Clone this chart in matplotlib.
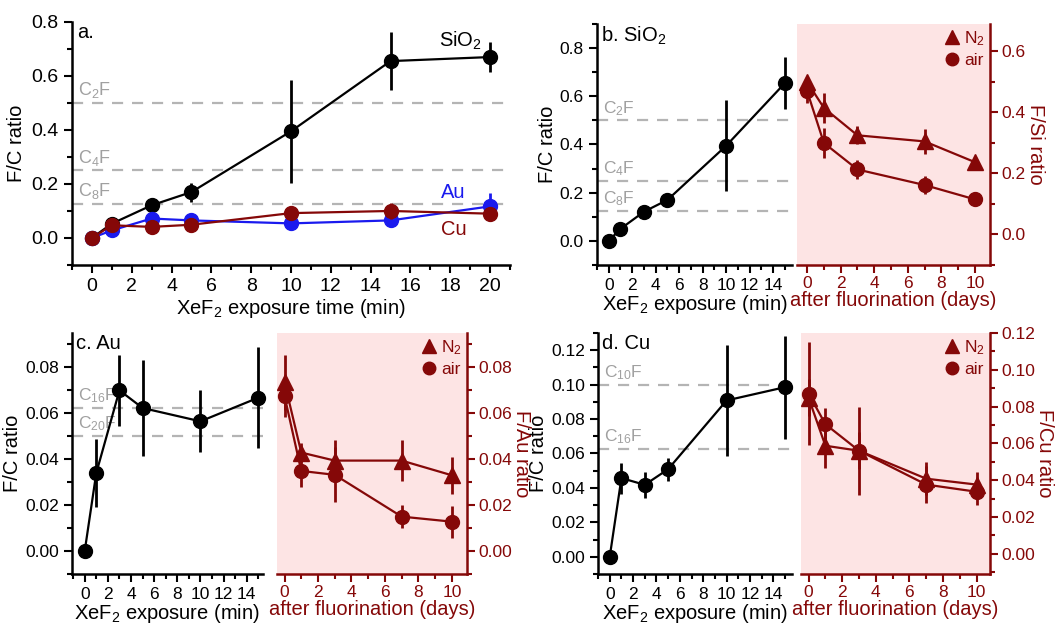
import matplotlib
matplotlib.use('Agg')
from matplotlib import pyplot as plt
from matplotlib.ticker import MultipleLocator, FormatStrFormatter
from matplotlib.lines import Line2D

plt.rcParams['font.family'] = ['Liberation Sans', 'DejaVu Sans']
plt.rcParams['mathtext.fontset'] = 'custom'
plt.rcParams['mathtext.rm'] = 'Liberation Sans'
plt.rcParams['mathtext.default'] = 'regular'

MAROON = '#850808'
BLUE = '#1a1aee'
GRAY = '#b4b4b4'
GRAYTXT = '#a0a0a0'
PINK = '#fde4e4'

# ---- data ----
# panel a
t_a = [0, 1, 3, 5, 10, 15, 20]
sio2_a = [0, 0.053, 0.121, 0.170, 0.395, 0.655, 0.670]
sio2_a_err = [0, 0.01, 0.015, 0.035, 0.19, 0.106, 0.056]
au_a = [0, 0.028, 0.072, 0.065, 0.054, 0.065, 0.117]
au_a_err = [0, 0.01, 0.01, 0.01, 0.01, 0.01, 0.05]
cu_a = [0, 0.047, 0.041, 0.049, 0.092, 0.100, 0.090]
cu_a_err = [0, 0.01, 0.015, 0.01, 0.025, 0.03, 0.015]

# left halves of b, c, d (exposure in min)
t_exp = [0, 1, 3, 5, 10, 15]
sio2_b = [0, 0.05, 0.121, 0.170, 0.395, 0.655]
sio2_b_err = [0, 0.01, 0.015, 0.03, 0.19, 0.106]
au_c = [0, 0.034, 0.070, 0.0623, 0.0565, 0.0668]
au_c_err = [0, 0.015, 0.0155, 0.021, 0.0135, 0.022]
cu_d = [0, 0.0457, 0.0418, 0.0509, 0.0908, 0.0985]
cu_d_err = [0, 0.009, 0.0075, 0.0067, 0.032, 0.03]

# right halves (days after fluorination)
days = [0, 1, 3, 7, 10]
si_n2 = [0.50, 0.415, 0.325, 0.305, 0.237]
si_n2_err = [0.02, 0.05, 0.03, 0.04, 0.02]
si_air = [0.47, 0.30, 0.213, 0.162, 0.115]
si_air_err = [0.04, 0.05, 0.03, 0.03, 0.01]
au_n2 = [0.0735, 0.0429, 0.0394, 0.0394, 0.033]
au_n2_err = [0.012, 0.004, 0.009, 0.009, 0.008]
au_air = [0.0676, 0.0349, 0.0332, 0.015, 0.0128]
au_air_err = [0.009, 0.007, 0.012, 0.005, 0.007]
cu_n2 = [0.0847, 0.0587, 0.056, 0.0408, 0.0376]
cu_n2_err = [0.01, 0.012, 0.01, 0.009, 0.007]
cu_air = [0.087, 0.0704, 0.056, 0.0376, 0.0337]
cu_air_err = [0.028, 0.009, 0.024, 0.01, 0.007]


def style_axes(ax, color, left=True):
    ax.spines['top'].set_visible(False)
    if left:
        ax.spines['right'].set_visible(False)
        ax.spines['left'].set_linewidth(1.8)
        ax.spines['left'].set_color(color)
    else:
        ax.spines['left'].set_visible(False)
        ax.spines['right'].set_linewidth(1.8)
        ax.spines['right'].set_color(color)
        ax.yaxis.tick_right()
        ax.yaxis.set_label_position('right')
    ax.spines['bottom'].set_linewidth(1.8)
    ax.spines['bottom'].set_color(color)
    ax.tick_params(which='both', direction='out', width=1.5, colors=color)
    ax.tick_params(which='major', length=6)
    ax.tick_params(which='minor', length=3.5)


def refs(ax, lines, fs):
    for val, name in lines:
        ax.axhline(val, color=GRAY, ls=(0, (5, 4)), lw=1.6, zorder=1)
        ax.annotate(name, xy=(0, val), xycoords=('axes fraction', 'data'),
                    xytext=(4, 2), textcoords='offset points', color=GRAYTXT,
                    fontsize=fs, va='bottom', ha='left')


def left_half(rect, y, yerr, xlim, ylim, ymaj, fmt, lines, letter):
    ax = fig.add_axes(rect)
    ax.set_facecolor('none')
    style_axes(ax, 'k')
    ax.errorbar(t_exp, y, yerr=yerr, color='k', marker='o', ms=10, lw=1.6,
                elinewidth=2, capsize=0, zorder=3, clip_on=False)
    refs(ax, lines, 12.5)
    ax.set_xlim(*xlim)
    ax.set_ylim(*ylim)
    ax.xaxis.set_major_locator(MultipleLocator(2))
    ax.xaxis.set_minor_locator(MultipleLocator(1))
    ax.yaxis.set_major_locator(MultipleLocator(ymaj))
    ax.yaxis.set_minor_locator(MultipleLocator(ymaj / 2))
    ax.yaxis.set_major_formatter(FormatStrFormatter(fmt))
    ax.tick_params(labelsize=12.5)
    ax.set_xlabel('XeF$_2$ exposure (min)', fontsize=14.5, labelpad=0)
    ax.set_ylabel('F/C ratio', fontsize=14.5, labelpad=2)
    ax.text(0.02, 0.995, letter, transform=ax.transAxes, fontsize=14.5,
            va='top', ha='left')
    return ax


def right_half(rect, n2, n2e, air, aire, xlim, ylim, ymaj, fmt, ylabel):
    ax = fig.add_axes(rect)
    ax.set_facecolor(PINK)
    style_axes(ax, MAROON, left=False)
    ax.errorbar(days, n2, yerr=n2e, color=MAROON, marker='^', ms=11, lw=1.6,
                elinewidth=2, capsize=0, zorder=3)
    ax.errorbar(days, air, yerr=aire, color=MAROON, marker='o', ms=10, lw=1.6,
                elinewidth=2, capsize=0, zorder=3)
    ax.set_xlim(*xlim)
    ax.set_ylim(*ylim)
    ax.xaxis.set_major_locator(MultipleLocator(2))
    ax.xaxis.set_minor_locator(MultipleLocator(1))
    ax.yaxis.set_major_locator(MultipleLocator(ymaj))
    ax.yaxis.set_minor_locator(MultipleLocator(ymaj / 2))
    ax.yaxis.set_major_formatter(FormatStrFormatter(fmt))
    ax.tick_params(labelsize=12.5, pad=2)
    ax.set_xlabel('after fluorination (days)', fontsize=14.5, color=MAROON, labelpad=0)
    ax.set_ylabel(ylabel, fontsize=14.5, color=MAROON, rotation=270, labelpad=14)
    handles = [Line2D([], [], marker='^', color=MAROON, ls='none', ms=10),
               Line2D([], [], marker='o', color=MAROON, ls='none', ms=9)]
    ax.legend(handles, ['N$_2$', 'air'], loc='upper right', frameon=False,
              labelcolor=MAROON, fontsize=12.5, handlelength=0.8,
              handletextpad=0.3, borderaxespad=0.1, borderpad=0.2,
              labelspacing=0.3)
    return ax


fig = plt.figure(figsize=(10.6, 6.27), dpi=100)

# ---- panel a ----
ax = fig.add_axes([0.0679, 0.5774, 0.4132, 0.3876])
style_axes(ax, 'k')
ax.errorbar(t_a, sio2_a, yerr=sio2_a_err, color='k', marker='o', ms=10, lw=1.6,
            elinewidth=2, capsize=0, zorder=3)
ax.errorbar(t_a, au_a, yerr=au_a_err, color=BLUE, marker='o', ms=10, lw=1.6,
            elinewidth=2, capsize=0, zorder=4)
ax.errorbar(t_a, cu_a, yerr=cu_a_err, color=MAROON, marker='o', ms=10, lw=1.6,
            elinewidth=2, capsize=0, zorder=5)
refs(ax, [(0.5, 'C$_2$F'), (0.25, 'C$_4$F'), (0.125, 'C$_8$F')], 13)
ax.set_xlim(-1, 21)
ax.set_ylim(-0.1, 0.8)
ax.xaxis.set_major_locator(MultipleLocator(2))
ax.xaxis.set_minor_locator(MultipleLocator(1))
ax.yaxis.set_major_locator(MultipleLocator(0.2))
ax.yaxis.set_minor_locator(MultipleLocator(0.1))
ax.yaxis.set_major_formatter(FormatStrFormatter('%.1f'))
ax.tick_params(labelsize=14)
ax.set_xlabel('XeF$_2$ exposure time (min)', fontsize=14.5, labelpad=1)
ax.set_ylabel('F/C ratio', fontsize=14.5, labelpad=4)
ax.text(0.012, 0.995, 'a.', transform=ax.transAxes, fontsize=14.5, va='top')
ax.text(19.6, 0.73, 'SiO$_2$', fontsize=14.5, ha='right', va='center')
ax.text(18.15, 0.17, 'Au', fontsize=14.5, color=BLUE, ha='center', va='center')
ax.text(18.2, 0.03, 'Cu', fontsize=14.5, color=MAROON, ha='center', va='center')

# ---- panel b ----
left_half([0.5632, 0.5774, 0.184, 0.3844], sio2_b, sio2_b_err, (-1, 15.6),
          (-0.1, 0.9), 0.2, '%.1f',
          [(0.5, 'C$_2$F'), (0.25, 'C$_4$F'), (0.125, 'C$_8$F')], 'b. SiO$_2$')
right_half([0.7519, 0.5774, 0.1821, 0.3844], si_n2, si_n2_err, si_air, si_air_err,
           (-0.6, 10.9), (-0.1, 0.69), 0.2, '%.1f', 'F/Si ratio')

# ---- panel c ----
left_half([0.0679, 0.0845, 0.1802, 0.3845], au_c, au_c_err, (-1.1, 15.4),
          (-0.01, 0.095), 0.02, '%.2f',
          [(0.0625, 'C$_{16}$F'), (0.05, 'C$_{20}$F')], 'c. Au')
right_half([0.2613, 0.0845, 0.1792, 0.3845], au_n2, au_n2_err, au_air, au_air_err,
           (-0.45, 10.9), (-0.01, 0.095), 0.02, '%.2f', 'F/Au ratio')

# ---- panel d ----
left_half([0.5642, 0.0845, 0.183, 0.3845], cu_d, cu_d_err, (-1, 15.6),
          (-0.01, 0.13), 0.02, '%.2f',
          [(0.1, 'C$_{10}$F'), (0.0625, 'C$_{16}$F')], 'd. Cu')
right_half([0.7557, 0.0845, 0.1783, 0.3845], cu_n2, cu_n2_err, cu_air, cu_air_err,
           (-0.45, 10.8), (-0.011, 0.12), 0.02, '%.2f', 'F/Cu ratio')

plt.savefig('out.png', dpi=100)
